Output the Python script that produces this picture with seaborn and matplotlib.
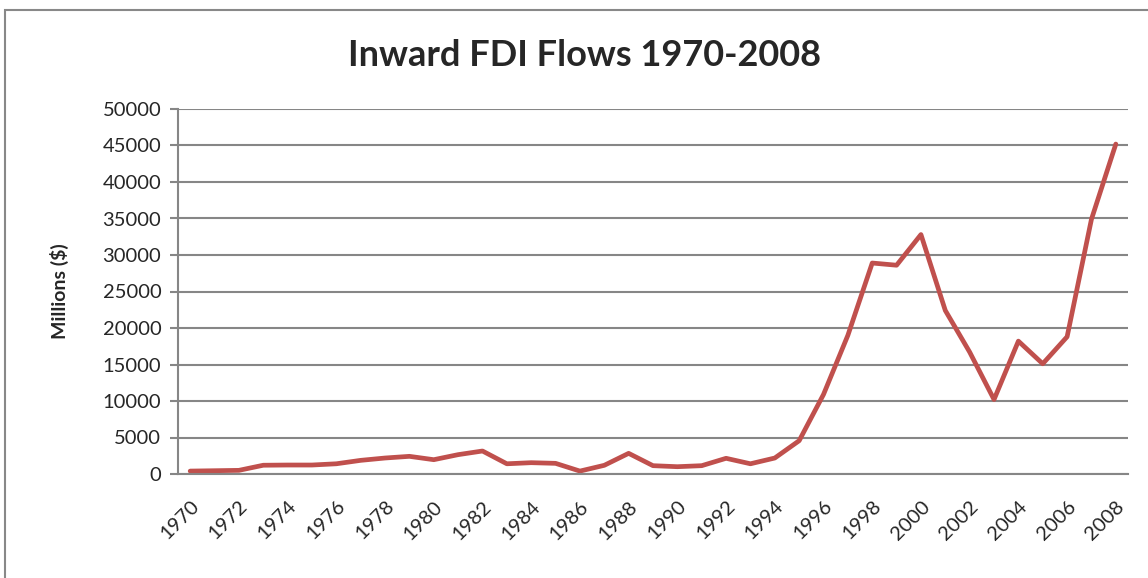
import matplotlib
matplotlib.use("Agg")
import matplotlib.pyplot as plt
import seaborn as sns
import pandas as pd
from matplotlib.patches import Rectangle

years = list(range(1970, 2009))
fdi_millions = [400, 450, 500, 1200, 1230, 1230, 1400, 1870, 2190, 2420,
                1960, 2650, 3150, 1400, 1550, 1460, 400, 1190, 2830, 1140,
                1000, 1140, 2150, 1400, 2190, 4560, 10900, 19000, 28900, 28600,
                32800, 22400, 16700, 10200, 18200, 15100, 18800, 34900, 45200]
tick_years = list(range(1970, 2009, 2))
y_ticks = list(range(0, 50001, 5000))

title = "Inward FDI Flows 1970-2008"
y_label = "Millions ($)"

sns.set_theme(style="white")
plt.rcParams['font.family'] = ['Lato', 'DejaVu Sans']

df = pd.DataFrame({"year": years, "fdi": fdi_millions})

fig = plt.figure(figsize=(11.48, 5.78), dpi=100)
ax = fig.add_axes([178/1148, 1 - 474/578, (1128 - 178)/1148, (474 - 109)/578])

sns.lineplot(data=df, x="year", y="fdi", ax=ax, color="#C0504D", linewidth=3.4)

ax.set_xlim(1969.5, 2008.5)
ax.set_ylim(0, 50000)
ax.set_yticks(y_ticks)
ax.set_yticklabels([str(v) for v in y_ticks], fontsize=14.5)
ax.set_xticks(tick_years)
ax.set_xticklabels([str(y) for y in tick_years], fontsize=14.5, rotation=45,
                   ha="right", rotation_mode="anchor")
ax.yaxis.grid(True, color="#868686", linewidth=1.5)
ax.xaxis.grid(False)
ax.set_axisbelow(True)
for s in ["top", "right"]:
    ax.spines[s].set_visible(False)
for s in ["left", "bottom"]:
    ax.spines[s].set_color("#868686")
    ax.spines[s].set_linewidth(1.5)
ax.tick_params(axis="y", which="major", left=True, length=6, width=1.5, color="#868686", pad=6)
ax.tick_params(axis="x", which="major", bottom=False, pad=11)
ax.set_xlabel("")
ax.set_ylabel(y_label, fontsize=14, fontweight="bold", labelpad=24)

fig.text(585/1148, 1 - 55/578, title, ha="center", va="center", fontsize=26, fontweight="bold")

fig.patches.append(Rectangle((5/1148, -0.1), 2.0, (578 - 10)/578 + 0.1,
                             transform=fig.transFigure, fill=False,
                             edgecolor="#888888", linewidth=1.5))

fig.savefig("out.png", dpi=100)
